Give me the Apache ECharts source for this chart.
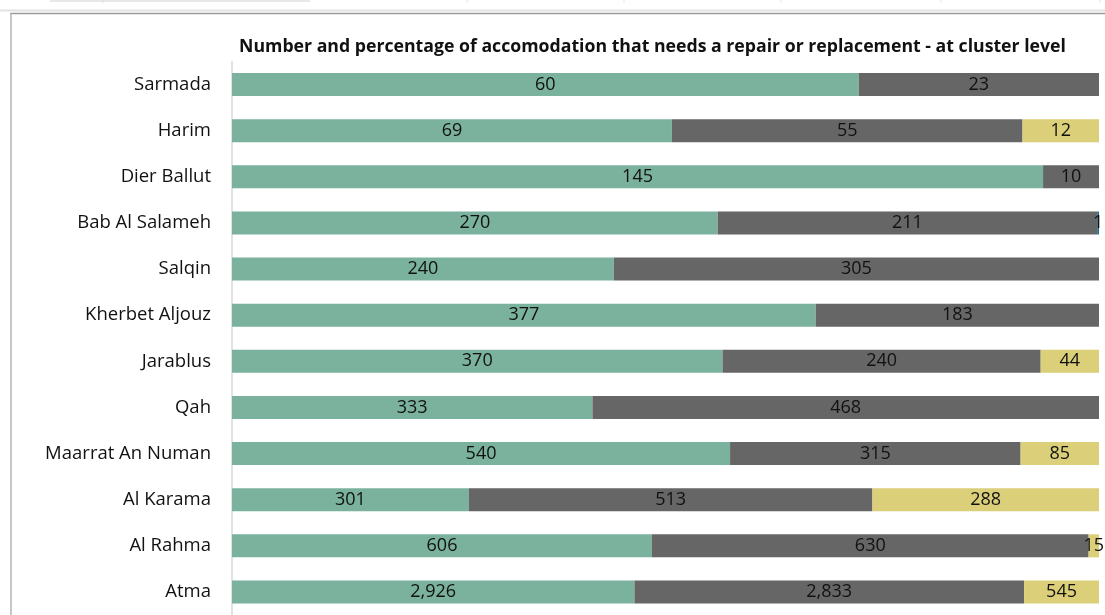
<!DOCTYPE html>
<html>
<head>
<meta charset="utf-8">
<script src="https://cdn.jsdelivr.net/npm/echarts@6/dist/echarts.min.js"></script>
<style>
  html, body { margin: 0; padding: 0; background: #ffffff; }
  #chart { width: 1105px; height: 615px; }
</style>
</head>
<body>
<div id="chart"></div>
<script>
// Clusters, listed top to bottom
const clusters = ['Sarmada', 'Harim', 'Dier Ballut', 'Bab Al Salameh', 'Salqin', 'Kherbet Aljouz',
  'Jarablus', 'Qah', 'Maarrat An Numan', 'Al Karama', 'Al Rahma', 'Atma'];

// Accommodation counts per cluster for each group
const groupA = [60, 69, 145, 270, 240, 377, 370, 333, 540, 301, 606, 2926];
const groupB = [23, 55, 10, 211, 305, 183, 240, 468, 315, 513, 630, 2833];
const groupC = [0, 12, 0, 0, 0, 0, 44, 0, 85, 288, 15, 545];
const groupD = [0, 0, 0, 1, 0, 0, 0, 0, 0, 0, 0, 0];

const titleText = 'Number and percentage of accomodation that needs a repair or replacement - at cluster level';

const groups = [groupA, groupB, groupC, groupD];
const colors = ['#7AB29E', '#666666', '#DBCF7A', '#1F6E8C'];
const totals = clusters.map((_, i) => groups.reduce((s, g) => s + g[i], 0));

const fontFamily = '"Open Sans", "Liberation Sans", Arial, sans-serif';

const series = groups.map((g, gi) => ({
  type: 'bar',
  stack: 'share',
  barWidth: '50%',
  itemStyle: { color: colors[gi] },
  label: {
    show: true,
    position: 'inside',
    color: '#111111',
    fontFamily: fontFamily,
    fontSize: 18,
    padding: [3, 0, 0, 0],
    formatter: p => {
      const raw = g[p.dataIndex];
      return raw ? raw.toLocaleString('en-US') : '';
    }
  },
  data: g.map((v, i) => v ? v / totals[i] : 0)
}));

const chart = echarts.init(document.getElementById('chart'), null, { renderer: 'canvas' });
chart.setOption({
  animation: false,
  backgroundColor: '#ffffff',
  title: {
    text: titleText,
    left: 647.5,
    textAlign: 'center',
    top: 32.5,
    textStyle: { fontFamily: fontFamily, fontWeight: 'bold', fontSize: 17.7, color: '#111111' }
  },
  grid: { left: 232, top: 61.5, width: 867, height: 555, containLabel: false },
  xAxis: {
    type: 'value',
    min: 0,
    max: 1,
    show: false
  },
  yAxis: {
    type: 'category',
    inverse: true,
    data: clusters,
    axisLine: { show: true, lineStyle: { color: '#d9d9d9', width: 1.5 } },
    axisTick: { show: false },
    axisLabel: { fontFamily: fontFamily, fontSize: 18.5, color: '#111111', margin: 21, padding: [3, 0, 0, 0] }
  },
  series: series,
  graphic: [
    // window chrome above the chart frame
    { type: 'rect', shape: { x: 50, y: 0, width: 260, height: 2 }, style: { fill: '#e8e8e8' } },
    { type: 'line', shape: { x1: 103, y1: 0, x2: 103, y2: 3 }, style: { stroke: '#dddddd', lineWidth: 1 } },
    { type: 'line', shape: { x1: 467, y1: 0, x2: 467, y2: 3 }, style: { stroke: '#e4e4e4', lineWidth: 1 } },
    { type: 'line', shape: { x1: 624, y1: 0, x2: 624, y2: 3 }, style: { stroke: '#e4e4e4', lineWidth: 1 } },
    { type: 'line', shape: { x1: 781, y1: 0, x2: 781, y2: 3 }, style: { stroke: '#e4e4e4', lineWidth: 1 } },
    { type: 'line', shape: { x1: 941, y1: 0, x2: 941, y2: 3 }, style: { stroke: '#e4e4e4', lineWidth: 1 } },
    { type: 'line', shape: { x1: 1100, y1: 0, x2: 1100, y2: 3 }, style: { stroke: '#e4e4e4', lineWidth: 1 } },
    { type: 'line', shape: { x1: 0, y1: 10.5, x2: 1105, y2: 10.5 }, style: { stroke: '#e2e2e2', lineWidth: 2 } },
    // chart frame
    { type: 'line', shape: { x1: 10, y1: 13.5, x2: 1105, y2: 13.5 }, style: { stroke: '#9a9a9a', lineWidth: 1.5 } },
    { type: 'line', shape: { x1: 11, y1: 13, x2: 11, y2: 615 }, style: { stroke: '#b4b4b4', lineWidth: 1.5 } }
  ]
});
</script>
</body>
</html>
